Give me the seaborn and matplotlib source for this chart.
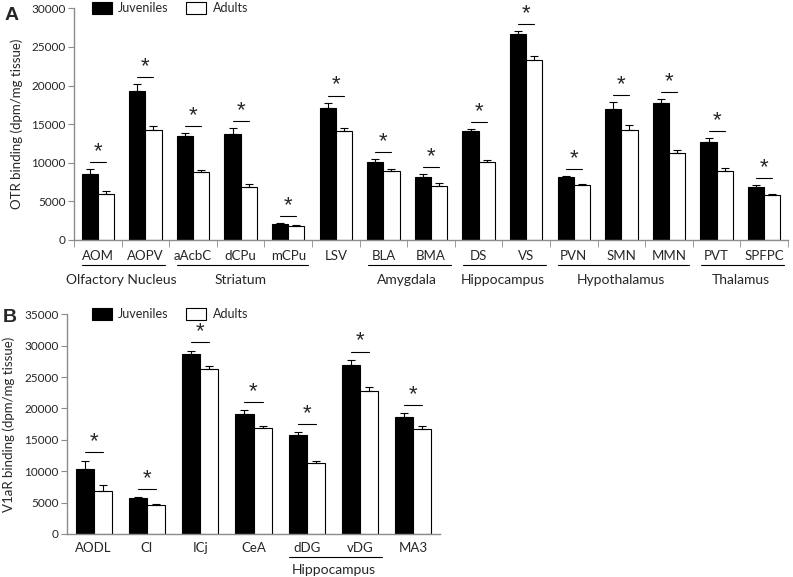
import numpy as np
import pandas as pd
import seaborn as sns
import matplotlib.pyplot as plt
from matplotlib.lines import Line2D

# Panel A: OTR binding
regions_a = ["AOM", "AOPV", "aAcbC", "dCPu", "mCPu", "LSV", "BLA", "BMA",
             "DS", "VS", "PVN", "SMN", "MMN", "PVT", "SPFPC"]
juv_a = [8600, 19300, 13500, 13700, 2050, 17150, 10100, 8150,
         14100, 26700, 8100, 16950, 17800, 12750, 6900]
juv_a_err = [550, 850, 400, 800, 150, 650, 400, 430,
             300, 400, 130, 900, 480, 430, 260]
adu_a = [5950, 14250, 8750, 6850, 1830, 14100, 8950, 7050,
         10100, 23350, 7100, 14250, 11250, 8900, 5800]
adu_a_err = [350, 450, 300, 400, 100, 400, 250, 350,
             260, 430, 200, 600, 430, 470, 130]
groups_a = [("Olfactory Nucleus", 0, 1), ("Striatum", 2, 4), ("Amygdala", 6, 7),
            ("Hippocampus", 8, 9), ("Hypothalamus", 10, 12), ("Thalamus", 13, 14)]

# Panel B: V1aR binding
regions_b = ["AODL", "Cl", "ICj", "CeA", "dDG", "vDG", "MA3"]
juv_b = [10400, 5680, 28600, 19050, 15800, 26950, 18700]
juv_b_err = [1300, 170, 630, 640, 430, 800, 530]
adu_b = [6800, 4620, 26350, 16850, 11300, 22750, 16800]
adu_b_err = [950, 150, 420, 430, 320, 690, 430]
groups_b = [("Hippocampus", 4, 5)]

sns.set_style("ticks")
plt.rcParams["font.family"] = ["Lato", "DejaVu Sans"]

fig = plt.figure(figsize=(7.93, 5.77), dpi=100)
ax_a = fig.add_axes([74 / 793, 1 - 240 / 577, 714 / 793, 231.7 / 577])
ax_b = fig.add_axes([67 / 793, 1 - 534 / 577, 373 / 793, 219.7 / 577])

grey = "#8c8c8c"


def draw_panel(ax, regions, juv, juv_err, adu, adu_err, groups, ymax, ylabel,
               ax_w_px, ax_h_px, label_off, line_off, group_off, sig_off,
               legend_off, boundary_ticks):
    df = pd.DataFrame({
        "region": regions * 2,
        "group": ["Juveniles"] * len(regions) + ["Adults"] * len(regions),
        "value": juv + adu,
    })
    sns.barplot(data=df, x="region", y="value", hue="group",
                palette={"Juveniles": "black", "Adults": "white"},
                edgecolor="black", linewidth=0.8, width=0.68, gap=0,
                errorbar=None, ax=ax)
    # one-sided error bars, Excel style
    for cont, vals, errs in zip(ax.containers, [juv, adu], [juv_err, adu_err]):
        xs = [p.get_x() + p.get_width() / 2 for p in cont]
        ax.errorbar(xs, vals, yerr=[np.zeros(len(vals)), errs], fmt="none",
                    ecolor="black", elinewidth=0.8, capsize=3, capthick=0.8)
    # significance markers
    for i in range(len(regions)):
        top = max(juv[i] + juv_err[i], adu[i] + adu_err[i]) + sig_off
        ax.plot([i - 0.17, i + 0.17], [top, top], color="black", lw=0.8,
                clip_on=False)
        ax.text(i, top, "*", ha="center", va="bottom", fontsize=16,
                fontfamily="Liberation Sans")

    n = len(regions)
    ax.set_xlim(-0.5, n - 0.5)
    ax.set_ylim(0, ymax)
    ax.set_yticks(np.arange(0, ymax + 1, 5000))
    ax.set_xlabel("")
    ax.set_ylabel(ylabel, fontsize=9.5)
    sns.despine(ax=ax)
    for s in ["left", "bottom"]:
        ax.spines[s].set_color(grey)
        ax.spines[s].set_linewidth(1)
    ax.tick_params(axis="y", labelsize=8.5, length=4, color=grey, pad=2)
    ax.tick_params(axis="x", which="major", length=0, labelsize=9.5,
                   pad=label_off)
    if boundary_ticks:
        ax.set_xticks(np.arange(-0.5, n), minor=True)
        ax.tick_params(axis="x", which="minor", length=5, color=grey)

    tr = ax.get_xaxis_transform()
    for name, a, b in groups:
        y_line = -line_off / ax_h_px
        ax.add_line(Line2D([a - 0.33, b + 0.42], [y_line, y_line], color="black",
                           lw=0.8, transform=tr, clip_on=False))
        ax.text((a + b) / 2, -group_off / ax_h_px, name, transform=tr,
                ha="center", va="center", fontsize=10)

    ax.legend(loc="center left", bbox_to_anchor=(legend_off / ax_w_px, 1.0),
              ncol=2, frameon=False, fontsize=9, handlelength=1.6,
              handleheight=1.0, handletextpad=0.5, columnspacing=1.4,
              borderaxespad=0, borderpad=0)


draw_panel(ax_a, regions_a, juv_a, juv_a_err, adu_a, adu_a_err, groups_a,
           30000, "OTR binding (dpm/mg tissue)", 714, 231.7, 7, 25, 40, 900,
           18, True)
draw_panel(ax_b, regions_b, juv_b, juv_b_err, adu_b, adu_b_err, groups_b,
           35000, "V1aR binding (dpm/mg tissue)", 373, 219.7, 6, 23, 36, 1300,
           25, False)

ax_a.yaxis.set_label_coords(-0.071, 0.5)
ax_b.yaxis.set_label_coords(-0.139, 0.5)

fig.text(5 / 793, 1 - 15 / 577, "A", fontsize=14, fontweight="bold",
         fontfamily="Liberation Sans", va="center", ha="left")
fig.text(3 / 793, 1 - 318 / 577, "B", fontsize=14, fontweight="bold",
         fontfamily="Liberation Sans", va="center", ha="left")

fig.savefig("out.png", dpi=100)
